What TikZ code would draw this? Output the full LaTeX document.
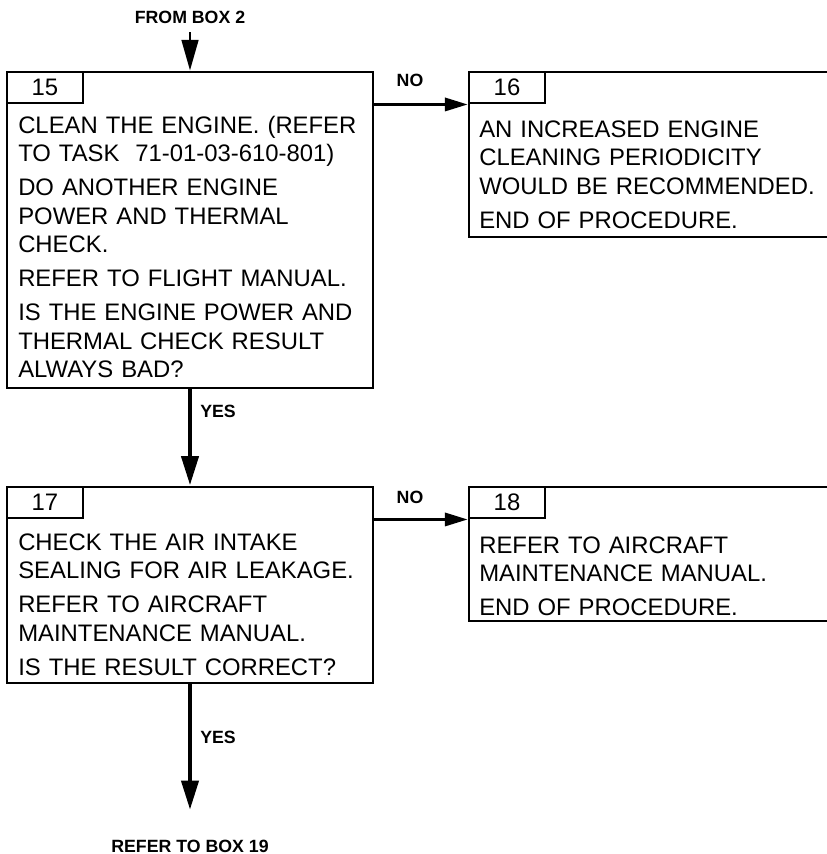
\documentclass[tikz,border=0pt]{standalone}
\usepackage{fontspec}
\setmainfont{Liberation Sans}
\usetikzlibrary{arrows.meta,fit}

\tikzset{
  box/.style={draw,line width=2.2pt,inner sep=0pt},
  tab/.style={box,anchor=north west,minimum width=57pt,minimum height=23.25pt,font=\fontsize{17.9}{21.4}\selectfont},
  body/.style={anchor=base west,inner sep=0pt,text width=270pt,align=left,font=\fontsize{17.9}{21.4}\selectfont},
  lbl/.style={anchor=base,inner sep=0pt,font=\bfseries\fontsize{13.3}{16}\selectfont},
  noarrow/.style={line width=1.8pt,-{Triangle[length=17pt,width=10pt]}},
  inarrow/.style={line width=2pt,-{Triangle[length=23pt,width=12.5pt]}},
  yesarrow/.style={line width=3.6pt,-{Triangle[length=22pt,width=12.5pt]}},
}
\newcommand{\pgap}{\\[4.1pt]}

\begin{document}
\begin{tikzpicture}[x=.75pt,y=-.75pt]
\useasboundingbox (0,0) rectangle (827,854);
% box 15
\node[box,fit={(7,72)(373,388)}] (b15) {};
\node[tab] (t15) at (b15.north west) {15};
\node[body] (x15) at (18,133) {CLEAN THE ENGINE. (REFER\\ TO TASK\ \ 71-01-03-610-801)\pgap
  DO ANOTHER ENGINE\\ POWER AND THERMAL\\ CHECK.\pgap REFER TO FLIGHT MANUAL.\pgap
  IS THE ENGINE POWER AND\\ THERMAL CHECK RESULT\\ ALWAYS BAD?};
% box 16
\node[box,fit={(469,72)(860,237)}] (b16) {};
\node[tab] (t16) at (b16.north west) {16};
\node[body] (x16) at (479,137) {AN INCREASED ENGINE\\ CLEANING PERIODICITY\\ WOULD BE RECOMMENDED.\pgap END OF PROCEDURE.};
% box 17
\node[box,fit={(7,487)(373,683)}] (b17) {};
\node[tab] (t17) at (b17.north west) {17};
\node[body] (x17) at (18,550) {CHECK THE AIR INTAKE\\ SEALING FOR AIR LEAKAGE.\pgap
  REFER TO AIRCRAFT\\ MAINTENANCE MANUAL.\pgap IS THE RESULT CORRECT?};
% box 18
\node[box,fit={(469,487)(860,621)}] (b18) {};
\node[tab] (t18) at (b18.north west) {18};
\node[body] (x18) at (479,553) {REFER TO AIRCRAFT\\ MAINTENANCE MANUAL.\pgap END OF PROCEDURE.};

% labels and links
\node[lbl] (from) at (190,23) {FROM BOX 2};
\node[lbl] (no1) at (410,86) {NO};
\node[lbl,anchor=base west] (yes1) at (200,417) {YES};
\node[lbl] (no2) at (410,503) {NO};
\node[lbl,anchor=base west] (yes2) at (200,743) {YES};
\node[lbl] (ref) at (190,852) {REFER TO BOX 19};
\coordinate (c19) at (190,810);

\draw[inarrow,shorten <=6.5pt] (from) -- (b15.north);
\draw[noarrow] (b15.east |- t16.south west) -- (t16.south west);
\draw[yesarrow] (b15) -- (b17);
\draw[noarrow] (b17.east |- t18.south west) -- (t18.south west);
\draw[yesarrow] (b17) -- (c19);
\end{tikzpicture}
\end{document}
